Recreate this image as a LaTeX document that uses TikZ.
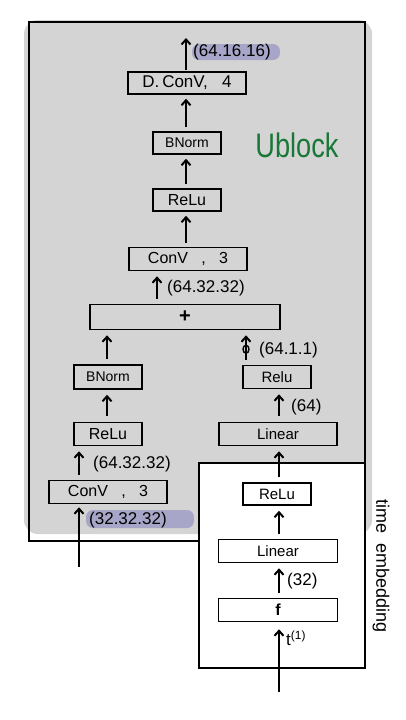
\documentclass[tikz,border=0pt]{standalone}
\usepackage{fontspec}
\setmainfont{Liberation Sans}
\usetikzlibrary{arrows.meta,shapes.geometric}
\definecolor{bggray}{RGB}{212,212,212}
\definecolor{hlpurple}{RGB}{168,166,200}
\definecolor{ugreen}{RGB}{25,120,55}
\begin{document}
\begin{tikzpicture}[x=1pt,y=-1pt,
  box/.style={draw, line width=1.6pt, inner sep=0pt, font=\fontsize{15}{17}\selectfont},
  arr/.style={line width=2pt, -{Straight Barb[length=5pt,width=9pt,line width=2pt]}, shorten <=4pt, shorten >=4pt},
  lbl/.style={font=\fontsize{17}{19}\selectfont, inner sep=1pt, anchor=west},
  hl/.style={fill=hlpurple, rounded corners=7pt}]
\useasboundingbox (0,0) rectangle (405,720);
% Ublock background
\fill[bggray, rounded corners=14pt] (24,20) rectangle (372,534);
\draw[line width=1.6pt] (29,22) rectangle (365,541);
% highlights
\fill[hl] (192,44) rectangle (280,60);
\fill[hl] (86,510) rectangle (194,528);
% time embedding box
\draw[line width=1.6pt, fill=white] (199,463) rectangle (365,668);
% column coordinates
\coordinate (xTop) at (186,0);
\coordinate (xM) at (157,0);
\coordinate (xL) at (107,0);
\coordinate (xLL) at (79,0);
\coordinate (xR1) at (246,0);
\coordinate (xR) at (279,0);
% nodes
\node[box, minimum width=118pt, minimum height=22pt, font=\fontsize{17}{19}\selectfont] (dconv) at (187,83) {D.\,ConV,\ \ \ 4};
\node[box, minimum width=68pt, minimum height=22pt, font=\fontsize{14}{16}\selectfont] (bn1) at (187,143) {BNorm};
\node[box, minimum width=68pt, minimum height=22pt, font=\fontsize{16}{18}\selectfont] (relu1) at (187,200) {ReLu};
\node[box, minimum width=118pt, minimum height=23pt, font=\fontsize{16}{18}\selectfont] (conv1) at (188,259) {ConV\ \ \ ,\ \ \ 3};
\node[box, minimum width=190pt, minimum height=25pt, font=\fontsize{20}{22}\selectfont\bfseries] (plus) at (185,317) {+};
\node[box, minimum width=68pt, minimum height=24pt, font=\fontsize{14}{16}\selectfont] (bnL) at (108,377) {BNorm};
\node[box, minimum width=68pt, minimum height=23pt] (reluR) at (277,377) {Relu};
\node[box, minimum width=68pt, minimum height=23pt, font=\fontsize{16}{18}\selectfont] (reluL) at (108,434) {ReLu};
\node[box, minimum width=118pt, minimum height=23pt] (linR) at (278,434) {Linear};
\node[box, minimum width=118pt, minimum height=23pt, font=\fontsize{16}{18}\selectfont] (conv2) at (108,492) {ConV\ \ \ ,\ \ \ 3};
\node[box, minimum width=68pt, minimum height=22pt] (reluT) at (277,494) {ReLu};
\node[box, minimum width=119pt, minimum height=23pt] (linT) at (278,551) {Linear};
\node[box, minimum width=119pt, minimum height=23pt, font=\fontsize{16}{18}\selectfont\bfseries] (fbox) at (278,610) {f};
% free ends
\coordinate (outTop) at (186,38);
\coordinate (inX) at (79,567);
\coordinate (inT) at (279,692);
% arrows
\draw[arr, shorten <=1pt, shorten >=0pt] (dconv.north -| xTop) -- (outTop);
\draw[arr] (bn1.north -| xTop) -- (dconv.south -| xTop);
\draw[arr] (relu1.north -| xTop) -- (bn1.south -| xTop);
\draw[arr] (conv1.north -| xTop) -- (relu1.south -| xTop);
\draw[arr, shorten <=5pt, shorten >=5pt] (plus.north -| xM) -- (conv1.south -| xM);
\draw[arr, shorten <=5pt, shorten >=5pt] (bnL.north -| xL) -- (plus.south -| xL);
\draw[arr, shorten <=5pt, shorten >=5pt] (reluR.north -| xR1) -- (plus.south -| xR1)
  node[pos=0.45, draw, line width=1.4pt, ellipse, minimum width=6pt, minimum height=8pt, inner sep=0pt] (phi) {};
\draw[arr, shorten <=6pt, shorten >=5pt] (reluL.north -| xL) -- (bnL.south -| xL);
\draw[arr, shorten <=6pt, shorten >=5pt] (linR.north -| xR) -- (reluR.south -| xR);
\draw[arr, shorten <=5pt, shorten >=5pt] (conv2.north -| xLL) -- (reluL.south -| xLL);
\draw[arr, shorten <=0pt, shorten >=3pt] (inX) -- (conv2.south -| xLL);
\draw[arr, shorten <=5pt, shorten >=5pt] (reluT.north -| xR) -- (linR.south -| xR);
\draw[arr, shorten <=5pt, shorten >=5pt] (linT.north -| xR) -- (reluT.south -| xR);
\draw[arr, shorten <=5pt, shorten >=5pt] (fbox.north -| xR) -- (linT.south -| xR);
\draw[arr, shorten <=0pt, shorten >=7pt] (inT) -- (fbox.south -| xR);
% labels
\node[lbl] (l1) at (192,52) {(64.16.16)};
\node[lbl] (l2) at (166,288) {(64.32.32)};
\node[lbl] (l3) at (258,350) {(64.1.1)};
\node[lbl] (l4) at (290,407) {(64)};
\node[lbl] (l5) at (92,464) {(64.32.32)};
\node[lbl] (l6) at (88,520) {(32.32.32)};
\node[lbl] (l7) at (286,581) {(32)};
\node[lbl] (l8) at (285,638) {t\textsuperscript{(1)}};
\node[text=ugreen, font=\fontsize{34}{36}\selectfont, xscale=0.8, inner sep=0pt] (ublock) at (297,145) {Ublock};
\node[rotate=-90, font=\fontsize{18}{20}\selectfont, inner sep=0pt] (temb) at (381,566) {time\ \ embedding};
\end{tikzpicture}
\end{document}
